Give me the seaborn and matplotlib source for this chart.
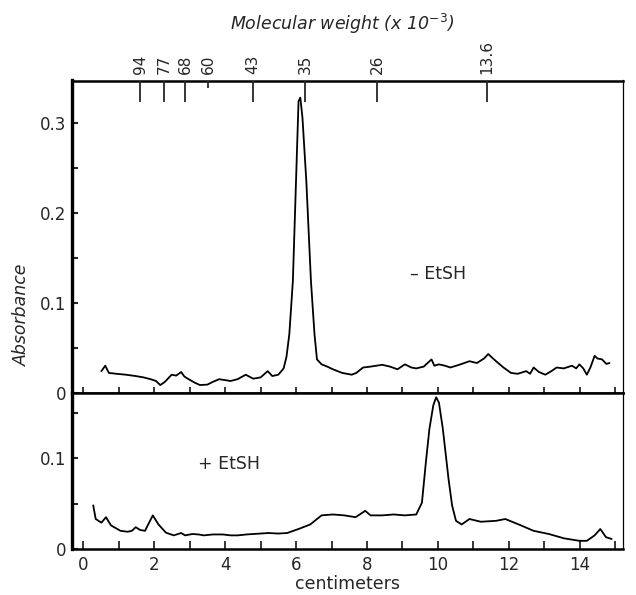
import matplotlib
matplotlib.use("Agg")
import matplotlib.pyplot as plt
import seaborn as sns
import pandas as pd

# ---- data ----
# Top panel: -EtSH (cm, absorbance)
minus_cm = [0.51, 0.62, 0.72, 0.94, 1.20, 1.48, 1.70, 1.90, 2.05, 2.17, 2.30, 2.49, 2.62, 2.76, 2.85,
            2.97, 3.15, 3.29, 3.50, 3.65, 3.83, 4.00, 4.15, 4.35, 4.58, 4.79, 5.00, 5.20, 5.33, 5.50,
            5.65, 5.73, 5.81, 5.91, 5.99, 6.07, 6.12, 6.18, 6.29, 6.42, 6.52, 6.59, 6.72, 6.88, 7.04,
            7.30, 7.57, 7.70, 7.89, 8.10, 8.43, 8.65, 8.86, 9.07, 9.25, 9.39, 9.60, 9.82, 9.90, 10.03,
            10.20, 10.35, 10.60, 10.89, 11.10, 11.30, 11.42, 11.50, 11.64, 11.85, 12.06, 12.25, 12.49,
            12.60, 12.70, 12.85, 13.03, 13.20, 13.35, 13.55, 13.78, 13.90, 13.99, 14.10, 14.20, 14.30,
            14.42, 14.50, 14.63, 14.75, 14.84]
minus_abs = [0.024, 0.030, 0.022, 0.021, 0.020, 0.0185, 0.017, 0.015, 0.013, 0.0085, 0.012, 0.020, 0.019,
             0.023, 0.018, 0.015, 0.011, 0.0085, 0.009, 0.012, 0.015, 0.014, 0.013, 0.015, 0.020, 0.0156,
             0.017, 0.024, 0.0185, 0.020, 0.027, 0.040, 0.065, 0.124, 0.224, 0.324, 0.328, 0.306, 0.235,
             0.124, 0.065, 0.037, 0.0315, 0.029, 0.026, 0.022, 0.020, 0.022, 0.028, 0.029, 0.031, 0.029,
             0.026, 0.0315, 0.028, 0.027, 0.029, 0.037, 0.030, 0.0315, 0.030, 0.028, 0.031, 0.035, 0.033,
             0.038, 0.043, 0.040, 0.035, 0.028, 0.022, 0.021, 0.024, 0.021, 0.028, 0.023, 0.020, 0.024,
             0.028, 0.027, 0.030, 0.027, 0.0315, 0.027, 0.020, 0.028, 0.041, 0.038, 0.037, 0.032, 0.033]

# Bottom panel: +EtSH (cm, absorbance)
plus_cm = [0.28, 0.35, 0.51, 0.64, 0.78, 1.05, 1.25, 1.37, 1.48, 1.60, 1.74, 1.96, 2.12, 2.33, 2.55, 2.76,
           2.87, 3.08, 3.25, 3.40, 3.65, 3.94, 4.15, 4.36, 4.60, 4.79, 5.00, 5.22, 5.50, 5.75, 6.07, 6.40,
           6.72, 7.04, 7.36, 7.68, 7.95, 8.10, 8.43, 8.75, 9.07, 9.39, 9.55, 9.66, 9.76, 9.87, 9.95,
           10.03, 10.14, 10.30, 10.40, 10.51, 10.67, 10.89, 11.21, 11.64, 11.90, 12.28, 12.70, 13.13,
           13.56, 13.99, 14.20, 14.42, 14.58, 14.74, 14.90]
plus_abs = [0.048, 0.033, 0.029, 0.035, 0.026, 0.020, 0.019, 0.020, 0.024, 0.021, 0.020, 0.037, 0.027,
            0.018, 0.015, 0.0176, 0.015, 0.0165, 0.016, 0.015, 0.016, 0.016, 0.015, 0.015, 0.016, 0.0165,
            0.017, 0.0176, 0.017, 0.0176, 0.022, 0.027, 0.037, 0.038, 0.037, 0.035, 0.042, 0.037, 0.037,
            0.038, 0.037, 0.038, 0.051, 0.095, 0.132, 0.158, 0.167, 0.161, 0.132, 0.077, 0.048, 0.031,
            0.027, 0.033, 0.030, 0.031, 0.033, 0.027, 0.020, 0.0165, 0.0117, 0.009, 0.009, 0.015, 0.022,
            0.013, 0.011]

mw_labels = ["94", "77", "68", "60", "43", "35", "26", "13.6"]
mw_cm = [1.60, 2.28, 2.87, 3.52, 4.79, 6.25, 8.28, 11.38]

x_tick_labels = ["0", "2", "4", "6", "8", "10", "12", "14"]

# ---- style ----
sns.set_style("ticks")
plt.rcParams["font.family"] = ["DejaVu Sans"]

W, H = 636, 595
fig = plt.figure(figsize=(W / 100, H / 100), dpi=100)

left = 71.7 / W
right = 623 / W
width = right - left
y_top_top = 80.5
y_div = 392.7
y_bot = 549
ax1 = fig.add_axes([left, 1 - y_div / H, width, (y_div - y_top_top) / H])
ax2 = fig.add_axes([left, 1 - y_bot / H, width, (y_bot - y_div) / H])

df_minus = pd.DataFrame({"cm": minus_cm, "abs": minus_abs})
df_plus = pd.DataFrame({"cm": plus_cm, "abs": plus_abs})
sns.lineplot(data=df_minus, x="cm", y="abs", ax=ax1, color="black", lw=1.3, sort=False)
sns.lineplot(data=df_plus, x="cm", y="abs", ax=ax2, color="black", lw=1.3, sort=False)

xlim = (-0.327, 15.22)
for ax in (ax1, ax2):
    ax.set_xlim(*xlim)
    ax.set_xlabel("")
    ax.set_ylabel("")
    for s in ax.spines.values():
        s.set_linewidth(1.8)
        s.set_color("black")
    ax.spines["right"].set_linewidth(0.9)
    ax.spines["left"].set_linewidth(2.4)

ax1.set_ylim(0, 0.347)
ax2.set_ylim(0, 0.172)

# y ticks
ax1.set_yticks([0, 0.1, 0.2, 0.3])
ax1.set_yticklabels(["0", "0.1", "0.2", "0.3"])
ax1.set_yticks([0.05, 0.15, 0.25], minor=True)
ax2.set_yticks([0, 0.1])
ax2.set_yticklabels(["0", "0.1"])
ax2.set_yticks([0.05, 0.15], minor=True)
for ax in (ax1, ax2):
    ax.tick_params(axis="y", which="both", direction="in", length=4, width=1.5,
                   labelsize=12, pad=4, right=False)

# x ticks
ax1.set_xticks(range(0, 16, 2))
ax1.set_xticks(range(1, 16, 2), minor=True)
ax1.tick_params(axis="x", which="both", direction="inout", length=8, width=1.3,
                labelbottom=False, top=False)
ax2.set_xticks(range(0, 16, 2))
ax2.set_xticklabels(x_tick_labels)
ax2.set_xticks(range(1, 16, 2), minor=True)
ax2.tick_params(axis="x", which="both", direction="in", length=6, width=1.3,
                labelsize=12, pad=5, top=False)
ax2.set_xlabel("centimeters", fontsize=12.5, labelpad=1)

# top molecular-weight axis
axt = ax1.twiny()
axt.set_xlim(*xlim)
major_idx = [i for i, l in enumerate(mw_labels) if l != "60"]
minor_idx = [i for i, l in enumerate(mw_labels) if l == "60"]
axt.set_xticks([mw_cm[i] for i in major_idx])
axt.set_xticklabels([mw_labels[i] for i in major_idx], rotation=90)
axt.set_xticks([mw_cm[i] for i in minor_idx], minor=True)
axt.set_xticklabels([mw_labels[i] for i in minor_idx], minor=True, rotation=90)
axt.tick_params(axis="x", which="major", direction="in", length=15, width=1.3,
                labelsize=11, pad=5)
axt.tick_params(axis="x", which="minor", direction="in", length=5, width=1.3,
                labelsize=11, pad=5)
for s in axt.spines.values():
    s.set_visible(False)

# annotations
ax1.text(9.2, 0.132, "\u2013 EtSH", fontsize=12.5, va="center", ha="left")
ax2.text(3.24, 0.093, "+ EtSH", fontsize=12.5, va="center", ha="left")

fig.text(22 / W, 1 - 315 / H, "Absorbance", rotation=90, fontsize=12.5,
         style="italic", ha="center", va="center")
fig.text(342 / W, 1 - 24 / H, r"Molecular weight (x 10$^{-3}$)", fontsize=12.5,
         style="italic", ha="center", va="center")

fig.savefig("out.png", dpi=100)
